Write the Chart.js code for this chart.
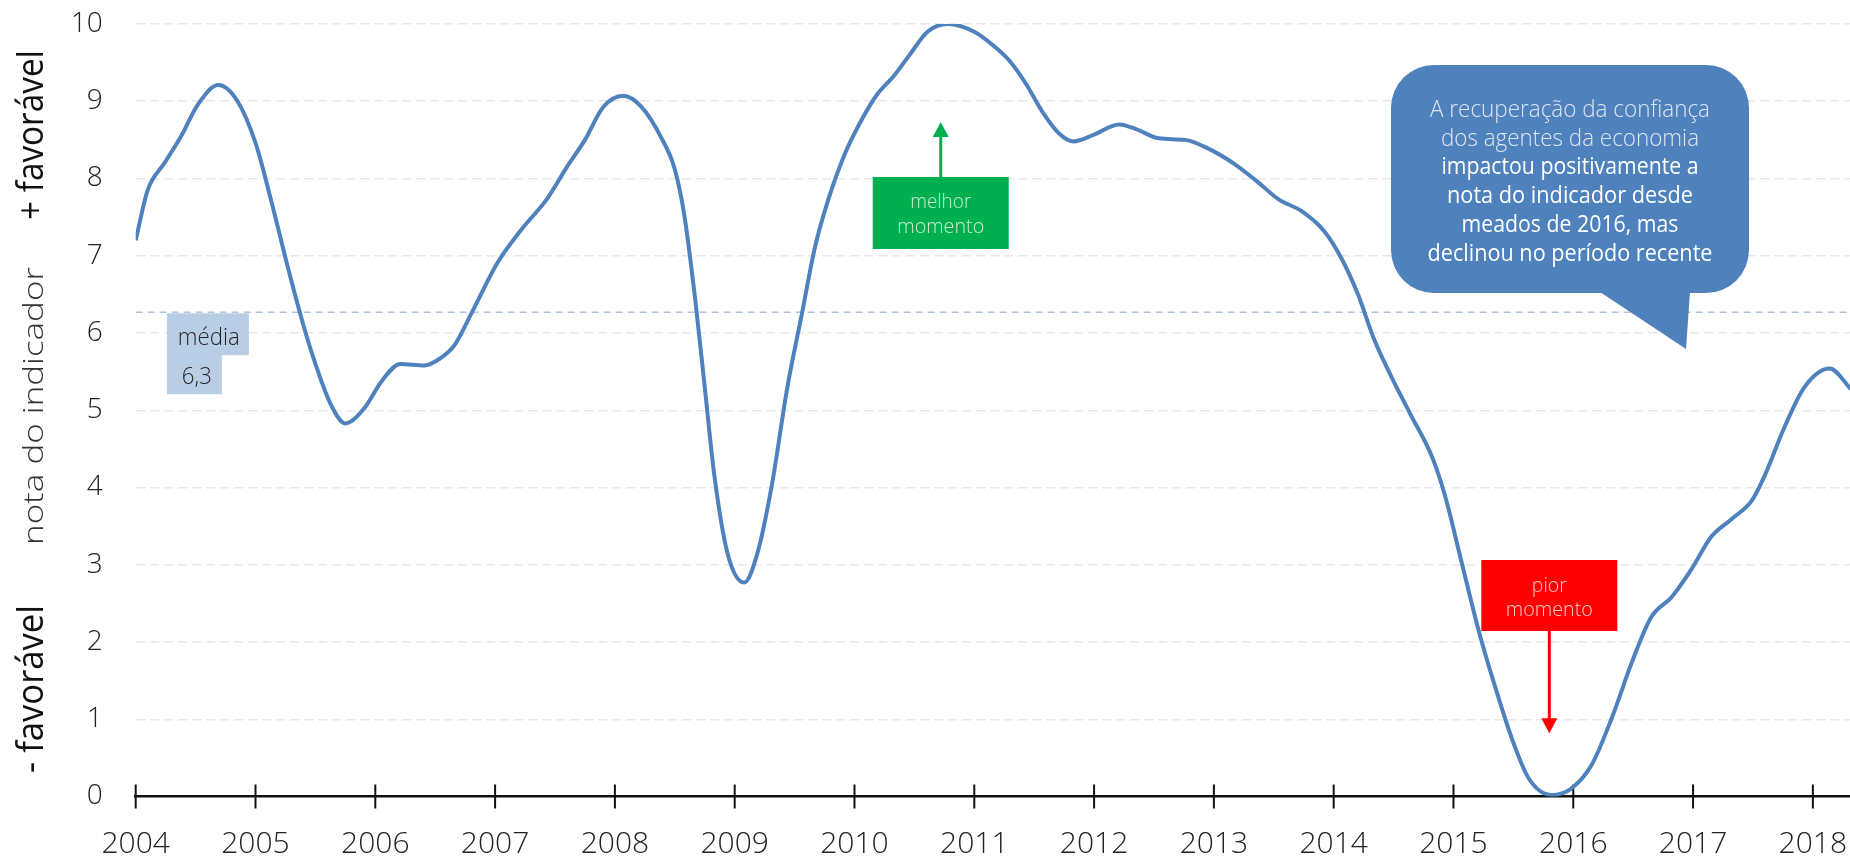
<!DOCTYPE html>
<html lang="pt-BR">
<head>
<meta charset="utf-8">
<title>Nota do indicador</title>
<script src="https://cdn.jsdelivr.net/npm/chart.js@4.4.1/dist/chart.umd.min.js"></script>
<style>
  html, body { margin: 0; padding: 0; background: #fff; }
  canvas { display: block; }
</style>
</head>
<body>
<canvas id="grafico" width="1850" height="863"></canvas>
<script>
// valores (ano decimal -> nota 0..10)
const anos = [
  2004.00, 2004.10, 2004.24, 2004.38, 2004.52, 2004.69, 2004.85, 2005.00, 2005.13, 2005.27,
  2005.40, 2005.50, 2005.63, 2005.75, 2005.91, 2006.05, 2006.21, 2006.41, 2006.54, 2006.66,
  2006.82, 2007.02, 2007.21, 2007.44, 2007.60, 2007.75, 2007.90, 2008.07, 2008.22, 2008.39,
  2008.50, 2008.58, 2008.67, 2008.75, 2008.83, 2008.94, 2009.08, 2009.19, 2009.31, 2009.44,
  2009.56, 2009.67, 2009.78, 2009.92, 2010.06, 2010.19, 2010.33, 2010.46, 2010.61, 2010.78,
  2011.00, 2011.16, 2011.29, 2011.43, 2011.57, 2011.71, 2011.83, 2011.99, 2012.21, 2012.35,
  2012.54, 2012.76, 2012.95, 2013.17, 2013.37, 2013.54, 2013.73, 2013.92, 2014.06, 2014.20,
  2014.34, 2014.48, 2014.64, 2014.82, 2014.93, 2015.07, 2015.21, 2015.35, 2015.49, 2015.63,
  2015.82, 2015.98, 2016.15, 2016.32, 2016.49, 2016.65, 2016.82, 2016.99, 2017.15, 2017.32,
  2017.49, 2017.60, 2017.76, 2017.93, 2018.14, 2018.32
];
const notas = [
  7.20, 7.85, 8.20, 8.55, 8.96, 9.21, 9.00, 8.46, 7.72, 6.85,
  6.10, 5.60, 5.07, 4.83, 5.03, 5.37, 5.60, 5.58, 5.67, 5.84,
  6.31, 6.91, 7.32, 7.75, 8.15, 8.50, 8.92, 9.07, 8.93, 8.52,
  8.12, 7.52, 6.44, 5.30, 4.16, 3.15, 2.77, 3.15, 4.03, 5.30,
  6.24, 7.11, 7.72, 8.32, 8.76, 9.09, 9.33, 9.60, 9.90, 10.00,
  9.90, 9.72, 9.53, 9.23, 8.86, 8.58, 8.48, 8.56, 8.70, 8.64,
  8.52, 8.50, 8.39, 8.19, 7.95, 7.73, 7.58, 7.32, 6.98, 6.51,
  5.91, 5.44, 4.95, 4.40, 3.89, 3.02, 2.15, 1.41, 0.74, 0.23,
  0.02, 0.10, 0.40, 1.01, 1.74, 2.32, 2.58, 2.95, 3.36, 3.59,
  3.83, 4.16, 4.77, 5.30, 5.54, 5.27
];
const media = 6.27;
const mediaRotulo = ["média", "6,3"];
const eixoX = [2004, 2018.31];
const eixoY = [0, 10];

const tituloY = ["+ favorável", "nota do indicador", "- favorável"];
const melhorRotulo = ["melhor", "momento"];
const piorRotulo = ["pior", "momento"];
const balaoTexto = [
  "A recuperação da confiança",
  "dos agentes da economia",
  "impactou positivamente a",
  "nota do indicador desde",
  "meados de 2016, mas",
  "declinou no período recente"
];

const fonte = "'Open Sans', 'Noto Sans', sans-serif";

// escreve um texto centrado, ajustado a uma largura
function texto(ctx, t, x, y, font, largura, cor, angulo = 0) {
  ctx.save();
  ctx.font = font;
  const w = ctx.measureText(t).width;
  ctx.translate(x, y);
  ctx.rotate(angulo);
  ctx.scale(largura / w, 1);
  ctx.fillStyle = cor;
  ctx.textAlign = "center";
  ctx.textBaseline = "alphabetic";
  ctx.fillText(t, 0, 0);
  ctx.restore();
}

function seta(ctx, x, y1, y2, cor) {
  const dir = Math.sign(y2 - y1);
  ctx.save();
  ctx.strokeStyle = cor;
  ctx.fillStyle = cor;
  ctx.lineWidth = 3;
  ctx.beginPath();
  ctx.moveTo(x, y1);
  ctx.lineTo(x, y2 - dir * 12);
  ctx.stroke();
  ctx.beginPath();
  ctx.moveTo(x, y2);
  ctx.lineTo(x - 8, y2 - dir * 15);
  ctx.lineTo(x + 8, y2 - dir * 15);
  ctx.closePath();
  ctx.fill();
  ctx.restore();
}

const marcasEixo = {
  id: "marcasEixo",
  beforeDatasetsDraw(chart) {
    const { ctx, scales: { x, y } } = chart;
    const y0 = y.getPixelForValue(0);
    ctx.save();
    ctx.strokeStyle = "#111";
    ctx.lineWidth = 2;
    x.ticks.forEach(t => {
      const px = x.getPixelForValue(t.value);
      ctx.beginPath();
      ctx.moveTo(px, y0 - 12);
      ctx.lineTo(px, y0 + 12);
      ctx.stroke();
    });
    ctx.restore();
  }
};

const anotacoes = {
  id: "anotacoes",
  afterDatasetsDraw(chart) {
    const { ctx, scales: { x, y } } = chart;

    // títulos do eixo y
    texto(ctx, tituloY[0], 43, 135, `400 36px ${fonte}`, 170, "#111", -Math.PI / 2);
    texto(ctx, tituloY[1], 43, 406, `300 28px ${fonte}`, 278, "#333", -Math.PI / 2);
    texto(ctx, tituloY[2], 43, 689, `400 36px ${fonte}`, 168, "#111", -Math.PI / 2);

    // caixa da média
    const ym = y.getPixelForValue(media) + 1;
    const xm = x.getPixelForValue(2004.26);
    ctx.save();
    ctx.fillStyle = "#b9cde5";
    ctx.beginPath();
    ctx.moveTo(xm, ym);
    ctx.lineTo(xm + 82, ym);
    ctx.lineTo(xm + 82, ym + 42);
    ctx.lineTo(xm + 55, ym + 42);
    ctx.lineTo(xm + 55, ym + 81);
    ctx.lineTo(xm, ym + 81);
    ctx.closePath();
    ctx.fill();
    ctx.restore();
    texto(ctx, mediaRotulo[0], xm + 42, ym + 32, `300 24px ${fonte}`, 62, "#262626");
    texto(ctx, mediaRotulo[1], xm + 30, ym + 71, `300 24px ${fonte}`, 30, "#262626");

    // melhor momento
    const xb = x.getPixelForValue(2010.72);
    ctx.fillStyle = "#00b050";
    ctx.fillRect(xb - 68, 177, 136, 72);
    seta(ctx, xb, 177, y.getPixelForValue(8.73), "#00b050");
    texto(ctx, melhorRotulo[0], xb, 208, `300 21px ${fonte}`, 61, "#c6efce");
    texto(ctx, melhorRotulo[1], xb, 233, `300 21px ${fonte}`, 87, "#c6efce");

    // pior momento
    const xp = x.getPixelForValue(2015.80);
    ctx.fillStyle = "#ff0000";
    ctx.fillRect(xp - 68, 560, 136, 71);
    seta(ctx, xp, 631, y.getPixelForValue(0.82), "#ff0000");
    texto(ctx, piorRotulo[0], xp, 592, `300 21px ${fonte}`, 35, "#ffc9c9");
    texto(ctx, piorRotulo[1], xp, 616, `300 21px ${fonte}`, 87, "#ffc9c9");

    // balão
    ctx.save();
    ctx.fillStyle = "#4f81bd";
    ctx.beginPath();
    ctx.roundRect(1391, 65, 358, 228, 43);
    ctx.fill();
    ctx.beginPath();
    ctx.moveTo(1600, 292);
    ctx.lineTo(1690, 292);
    ctx.lineTo(1686, 349);
    ctx.closePath();
    ctx.fill();
    ctx.restore();
    const larguras = [280, 258, 257, 246, 217, 285];
    balaoTexto.forEach((t, i) => {
      const leve = i < 2;
      texto(ctx, t, 1570, 117 + i * 28.7,
        `${leve ? 300 : 400} 23px ${fonte}`, larguras[i], leve ? "#dce6f2" : "#ffffff");
    });
  }
};

const serie = anos.map((a, i) => ({ x: a, y: notas[i] }));

new Chart(document.getElementById("grafico"), {
  type: "line",
  data: {
    datasets: [
      {
        data: serie,
        borderColor: "#4f81bd",
        borderWidth: 4,
        pointRadius: 0,
        cubicInterpolationMode: "monotone",
        order: 0
      },
      {
        data: [{ x: eixoX[0], y: media }, { x: eixoX[1], y: media }],
        borderColor: "#aec6e8",
        borderWidth: 1.5,
        borderDash: [7, 5],
        pointRadius: 0,
        order: 1
      }
    ]
  },
  options: {
    responsive: false,
    animation: false,
    layout: { padding: { top: 24, left: 0, right: 0, bottom: 0 } },
    plugins: { legend: { display: false }, tooltip: { enabled: false } },
    scales: {
      x: {
        type: "linear",
        min: eixoX[0],
        max: eixoX[1],
        grid: { display: false, drawTicks: false },
        border: { display: true, color: "#111", width: 2.5 },
        ticks: {
          stepSize: 1,
          includeBounds: false,
          autoSkip: false,
          maxRotation: 0,
          padding: 30,
          color: "#222",
          font: { family: fonte, size: 30, weight: "300" },
          callback: v => String(v)
        },
        afterFit: s => {
          s.height = 66.5;
          s.paddingLeft = 0;
          s.paddingRight = 0;
        }
      },
      y: {
        min: eixoY[0],
        max: eixoY[1],
        grid: {
          color: c => (c.tick && c.tick.value === 0 ? "rgba(0,0,0,0)" : "#e8e8e8"),
          lineWidth: 1.5,
          drawTicks: false
        },
        border: { display: false, dash: [9, 5] },
        ticks: {
          stepSize: 1,
          padding: 33,
          color: "#222",
          font: { family: fonte, size: 28, weight: "300" }
        },
        afterFit: s => {
          s.width = 135.7;
          s.paddingTop = 0;
          s.paddingBottom = 0;
        }
      }
    }
  },
  plugins: [marcasEixo, anotacoes]
});
</script>
</body>
</html>
